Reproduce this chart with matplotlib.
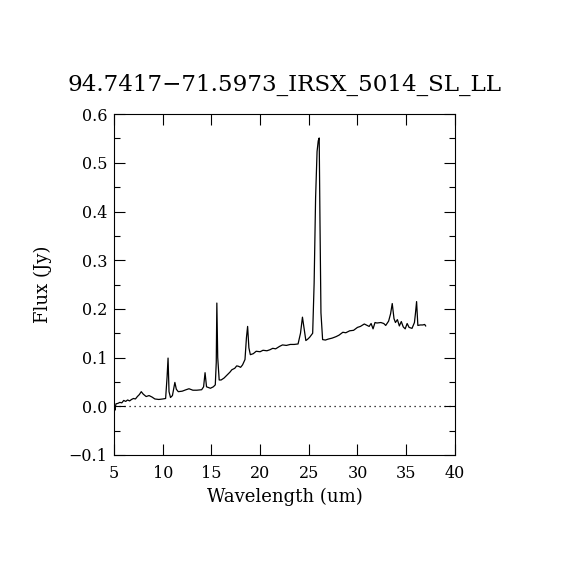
import matplotlib
matplotlib.use("Agg")
import matplotlib.pyplot as plt
from matplotlib.ticker import MultipleLocator

title = "94.7417\u221271.5973_IRSX_5014_SL_LL"
xlabel = "Wavelength (um)"
ylabel = "Flux (Jy)"

wavelength = [5.05, 5.1, 5.2, 5.4, 5.6, 5.8, 6.0, 6.2, 6.4, 6.6, 6.8, 7.0, 7.2, 7.4,
              7.6, 7.8, 8.0, 8.3, 8.6, 8.9, 9.2, 9.6, 10.0, 10.3, 10.45, 10.55,
              10.65, 10.8, 11.0, 11.25, 11.4, 11.6, 12.0, 12.4, 12.7, 13.1, 13.5,
              14.0, 14.2, 14.35, 14.5, 14.9, 15.2, 15.4, 15.5, 15.56, 15.65, 15.8,
              16.0, 16.3, 16.6, 16.9, 17.1, 17.4, 17.6, 17.8, 18.0, 18.2, 18.45,
              18.6, 18.72, 18.85, 19.0, 19.3, 19.6, 20.0, 20.3, 20.7, 21.0, 21.3,
              21.6, 22.0, 22.3, 22.7, 23.1, 23.5, 23.9, 24.15, 24.35, 24.5, 24.7,
              24.9, 25.1, 25.4, 25.55, 25.7, 25.85, 25.97, 26.07, 26.15, 26.25,
              26.42, 26.7, 27.0, 27.4, 27.8, 28.1, 28.5, 28.8, 29.2, 29.6, 30.0,
              30.3, 30.7, 31.0, 31.2, 31.4, 31.6, 31.8, 32.0, 32.4, 32.7, 32.9,
              33.2, 33.4, 33.57, 33.75, 33.9, 34.1, 34.3, 34.5, 34.7, 34.9, 35.1,
              35.3, 35.6, 35.85, 35.95, 36.07, 36.2, 36.45, 36.7, 36.9, 37.0]
flux = [0.000, -0.008, 0.005, 0.006, 0.008, 0.007, 0.012, 0.010, 0.013, 0.011,
        0.014, 0.016, 0.015, 0.020, 0.024, 0.030, 0.025, 0.020, 0.022, 0.019,
        0.015, 0.014, 0.015, 0.016, 0.060, 0.099, 0.030, 0.018, 0.022, 0.049,
        0.035, 0.030, 0.031, 0.034, 0.036, 0.033, 0.033, 0.034, 0.040, 0.069,
        0.040, 0.037, 0.040, 0.044, 0.090, 0.212, 0.100, 0.054, 0.054, 0.058,
        0.064, 0.070, 0.075, 0.078, 0.083, 0.082, 0.080, 0.085, 0.096, 0.141,
        0.164, 0.120, 0.106, 0.108, 0.113, 0.112, 0.115, 0.114, 0.116, 0.119,
        0.118, 0.123, 0.126, 0.125, 0.127, 0.127, 0.128, 0.150, 0.183, 0.162,
        0.135, 0.138, 0.142, 0.150, 0.253, 0.428, 0.523, 0.545, 0.551, 0.379,
        0.192, 0.137, 0.136, 0.138, 0.140, 0.143, 0.146, 0.152, 0.151, 0.155,
        0.156, 0.162, 0.164, 0.169, 0.166, 0.164, 0.170, 0.159, 0.172, 0.171,
        0.172, 0.170, 0.166, 0.175, 0.190, 0.211, 0.180, 0.172, 0.178, 0.165,
        0.174, 0.163, 0.159, 0.170, 0.162, 0.160, 0.172, 0.190, 0.215, 0.166,
        0.167, 0.167, 0.168, 0.165]

plt.rcParams['font.family'] = ['DejaVu Serif']
fig = plt.figure(figsize=(5.7, 5.7), dpi=100)
ax = fig.add_axes([0.2, 0.2018, 0.598, 0.598])
ax.plot(wavelength, flux, color='black', lw=0.9)
ax.axhline(0.0, color='black', lw=0.9, linestyle=(0, (1, 3)))
ax.set_xlim(5, 40)
ax.set_ylim(-0.1, 0.6)
ax.xaxis.set_major_locator(MultipleLocator(5))
ax.yaxis.set_major_locator(MultipleLocator(0.1))
ax.yaxis.set_minor_locator(MultipleLocator(0.05))
ax.yaxis.set_major_formatter(matplotlib.ticker.FuncFormatter(
    lambda v, p: ("%.1f" % v).replace("-", "\u2212")))
ax.tick_params(which='both', direction='in', top=True, right=True,
               labelsize=11.5, width=0.8)
ax.tick_params(axis='x', pad=7)
ax.tick_params(axis='y', pad=5)
ax.tick_params(which='major', length=8)
ax.tick_params(which='minor', length=4)
for s in ax.spines.values():
    s.set_linewidth(0.8)
ax.set_xlabel(xlabel, fontsize=13, labelpad=4)
ax.set_ylabel(ylabel, fontsize=13, labelpad=12)
ax.set_title(title, fontsize=16.6, pad=17)
fig.savefig("out.png", dpi=100)
